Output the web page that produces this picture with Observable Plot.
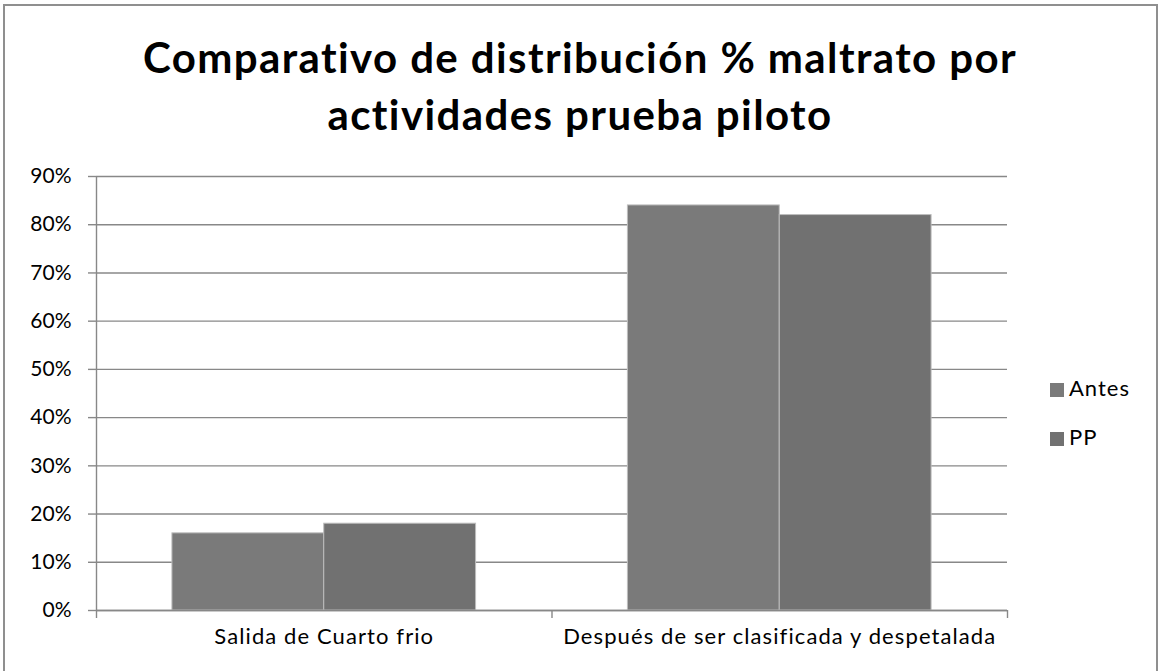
<!DOCTYPE html>
<html>
<head>
<meta charset="utf-8">
<script src="https://cdn.jsdelivr.net/npm/d3@7"></script>
<script src="https://cdn.jsdelivr.net/npm/@observablehq/plot@0.6"></script>
<style>
  body { margin: 0; background: #fff; }
  #wrap { position: relative; width: 1160px; height: 671px; overflow: hidden; font-family: Lato, "Noto Sans", sans-serif; color: #000; }
  #frame { position: absolute; left: 3px; top: 4px; width: 1155px; height: 720px; border: 2px solid #8f8f8f; box-sizing: border-box; }
  #title { position: absolute; left: 0; top: 29px; width: 1160px; text-align: center; font-weight: 700; font-size: 42px; line-height: 57px; letter-spacing: 1.4px; }
  #chart { position: absolute; left: 0; top: 0; }
  .leg { position: absolute; left: 1050px; font-size: 22px; line-height: 26px; letter-spacing: 1px; white-space: nowrap; }
  .leg span.sw { display: inline-block; width: 14px; height: 14px; margin-right: 5px; vertical-align: -1px; }
</style>
</head>
<body>
<div id="wrap">
  <div id="frame"></div>
  <div id="chart"></div>
  <div id="title">Comparativo de distribución % maltrato por<br>actividades prueba piloto</div>
  <div id="legend"></div>
</div>
<script>
const categories = ["Salida de Cuarto frio", "Después de ser clasificada y despetalada"];
const series = ["Antes", "PP"];
const antes = [0.16, 0.84];
const pp = [0.18, 0.82];
const seriesColors = ["#7a7a7a", "#717171"];
const yTicks = [0, 0.1, 0.2, 0.3, 0.4, 0.5, 0.6, 0.7, 0.8, 0.9];
const gapWidth = 1; // Excel-style gap width (100%)

const values = [antes, pp];
const rows = [];
categories.forEach((c, i) => {
  const slot = 1 / (series.length + gapWidth);
  series.forEach((s, j) => {
    const x1 = i + slot * (gapWidth / 2 + j);
    rows.push({category: c, series: s, value: values[j][i], x1, x2: x1 + slot});
  });
});

const chart = Plot.plot({
  width: 1160,
  height: 671,
  marginLeft: 96,
  marginRight: 153,
  marginTop: 176,
  marginBottom: 61,
  style: {fontFamily: "Lato, 'Noto Sans', sans-serif", fontSize: "21px", color: "#000", background: "transparent", overflow: "visible"},
  x: {domain: [0, categories.length], label: null},
  y: {domain: [0, 0.9], label: null},
  color: {domain: series, range: seriesColors},
  marks: [
    Plot.gridY(yTicks, {stroke: "#888", strokeOpacity: 1, strokeWidth: 1.4}),
    Plot.rectY(rows, {x1: "x1", x2: "x2", y: "value", fill: "series", stroke: "#bdbdbd", strokeWidth: 1}),
    Plot.ruleY([0], {stroke: "#888", strokeWidth: 1.4}),
    Plot.ruleX([0], {stroke: "#888", strokeWidth: 1.4}),
    Plot.axisY({ticks: yTicks, tickFormat: d3.format(".0%"), tickSize: 8, tickPadding: 17, stroke: "#888", strokeWidth: 1.4, fill: "#000", label: null}),
    Plot.axisX({ticks: d3.range(categories.length + 1), tickSize: 8, tickFormat: () => "", stroke: "#888", strokeWidth: 1.4, label: null}),
    Plot.axisX({ticks: categories.map((c, i) => i + 0.5), tickSize: 0, tickPadding: 18, tickFormat: v => categories[Math.floor(v)], fill: "#000", fontSize: 22, label: null})
  ]
});
document.getElementById("chart").appendChild(chart);

// widen category labels slightly to mimic the original's wider face
d3.select(chart).selectAll("text")
  .filter(function() { return categories.includes(this.textContent); })
  .attr("letter-spacing", "1.1px")
  .style("letter-spacing", "1.1px");

const legend = document.getElementById("legend");
series.forEach((s, j) => {
  const d = document.createElement("div");
  d.className = "leg";
  d.style.top = (375 + j * 49) + "px";
  d.innerHTML = `<span class="sw" style="background:${seriesColors[j]}"></span>${s}`;
  legend.appendChild(d);
});
</script>
</body>
</html>
